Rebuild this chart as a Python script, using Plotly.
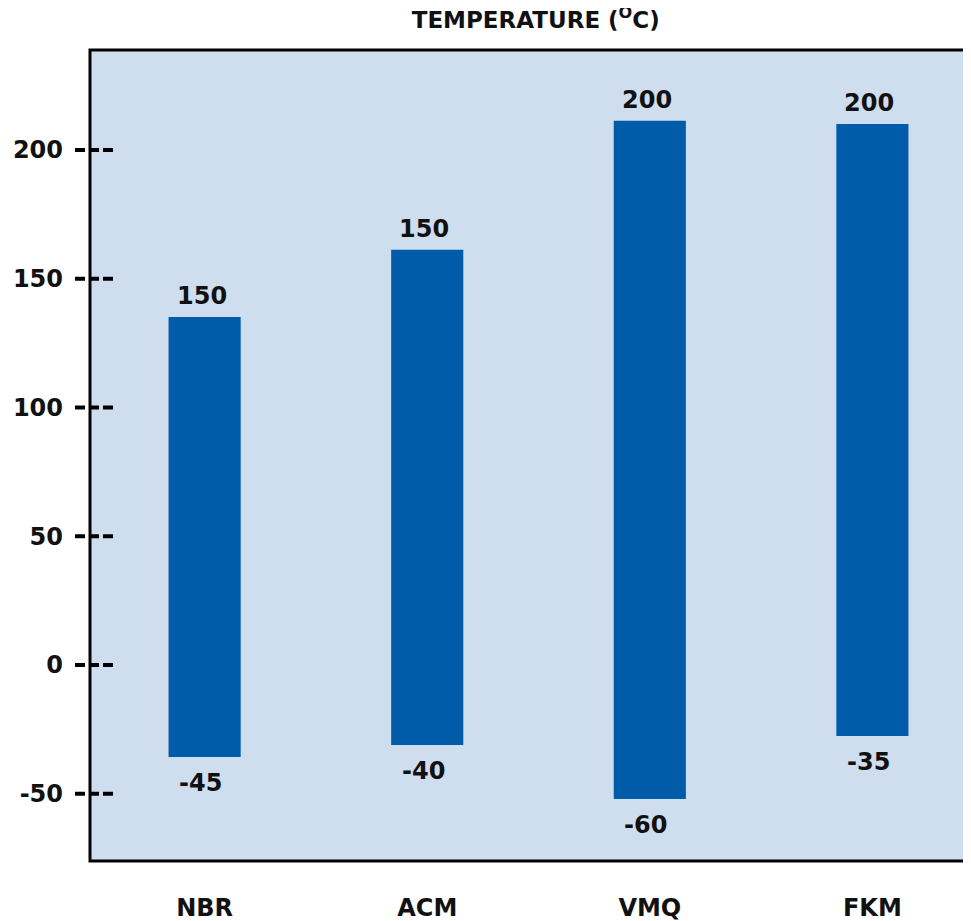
import plotly.graph_objects as go

# ---- data ----
categories = ["NBR", "ACM", "VMQ", "FKM"]
bar_low = [-35.7, -31.1, -52.0, -27.6]      # drawn bottom of each bar
bar_high = [135.1, 161.2, 211.3, 210.1]     # drawn top of each bar
label_high = ["150", "150", "200", "200"]   # printed max temperature
label_low = ["-45", "-40", "-60", "-35"]    # printed min temperature
y_ticks = [-50, 0, 50, 100, 150, 200]
y_ticktext = ["-50", "0", "50", "100", "150", "200"]
title_text = "TEMPERATURE (<sup>O</sup>C)"

FONT = "DejaVu Sans"
BAR_COLOR = "#005BA8"
BG_COLOR = "#CFDEEE"
TXT = "#111111"

fig = go.Figure(
    go.Bar(
        x=categories,
        y=[h - l for h, l in zip(bar_high, bar_low)],
        base=bar_low,
        width=0.324,
        marker=dict(color=BAR_COLOR, line=dict(width=0)),
        hoverinfo="skip",
    )
)

lab_font = dict(family=FONT, size=24, color=TXT, weight="bold")
annotations = []
for c, h, l, th, tl in zip(categories, bar_high, bar_low, label_high, label_low):
    annotations.append(dict(x=c, y=h, xref="x", yref="y", text=th, showarrow=False,
                            yanchor="bottom", yshift=5, xshift=-3, font=lab_font))
    annotations.append(dict(x=c, y=l, xref="x", yref="y", text=tl, showarrow=False,
                            yanchor="top", yshift=-10, xshift=-4, font=lab_font))

shapes = [
    dict(type="rect", xref="paper", yref="paper", x0=0, x1=1.05, y0=0, y1=1,
         line=dict(color="black", width=3), fillcolor="rgba(0,0,0,0)", layer="above")
]
for v in y_ticks:
    shapes.append(dict(type="line", xref="paper", yref="y", x0=-0.017, x1=0.0272,
                       y0=v, y1=v, line=dict(color="black", width=4, dash="10px,4px"),
                       layer="above"))

# page body has an 8px margin, so the figure is 8px smaller and margins shifted
fig.update_layout(
    width=963,
    height=913,
    margin=dict(l=82, r=0, t=42, b=60),
    paper_bgcolor="white",
    plot_bgcolor=BG_COLOR,
    showlegend=False,
    title=dict(text=title_text, x=0.548, xanchor="center", y=1 - 12 / 913,
               yanchor="middle", font=dict(family=FONT, size=23, color=TXT, weight="bold")),
    annotations=annotations,
    shapes=shapes,
    xaxis=dict(type="category", range=[-0.515, 3.443], showgrid=False, showline=False,
               zeroline=False, ticks="", ticklabelstandoff=30,
               tickfont=dict(family=FONT, size=24, color=TXT, weight="bold")),
    yaxis=dict(range=[-76.1, 238.8], tickvals=y_ticks, ticktext=y_ticktext,
               showgrid=False, showline=False,
               zeroline=False, ticks="", ticklabelstandoff=26,
               tickfont=dict(family=FONT, size=24, color=TXT, weight="bold")),
)

fig.write_html("out.html")
